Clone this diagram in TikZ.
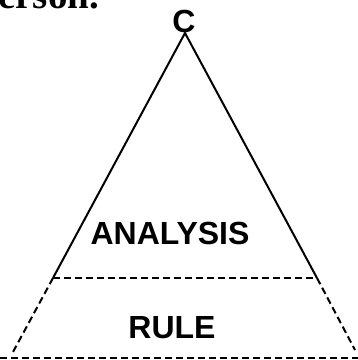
\documentclass[tikz,border=0pt]{standalone}
\usepackage{fontspec}
\setmainfont{Liberation Sans}
\newfontfamily\serifbold{Liberation Serif}
\begin{document}
\begin{tikzpicture}[x=1pt,y=1pt,
  lbl/.style={font=\fontsize{32}{32}\selectfont\bfseries, inner sep=0pt, anchor=base},
  solidline/.style={line width=2pt},
  dashline/.style={line width=2pt, dash pattern=on 7pt off 4pt}]
\useasboundingbox (0,0) rectangle (358,360);
\clip (0,0) rectangle (358,360);
\node[anchor=base west, inner sep=0pt, font=\fontsize{39}{39}\selectfont\serifbold\bfseries] (frag) at (-2,352) {erson.};
\node[lbl] (c) at (184,328) {C};
\node[lbl] (analysis) at (170,115) {ANALYSIS};
\node[lbl] (rule) at (172,22) {RULE};
\coordinate (apex) at (185,327);
\coordinate (bl) at (53,82);
\coordinate (br) at (317,82);
\coordinate (dl) at (13,8);
\coordinate (dr) at (355,10);
\coordinate (bbl) at (0,1.5);
\coordinate (bbr) at (358,1.5);
\draw[solidline] (bl) -- (apex) -- (br);
\draw[dashline] (bl) -- (br);
\draw[dashline] (bl) -- (dl);
\draw[dashline] (br) -- (dr);
\draw[dashline] (bbl) -- (bbr);
\end{tikzpicture}
\end{document}
